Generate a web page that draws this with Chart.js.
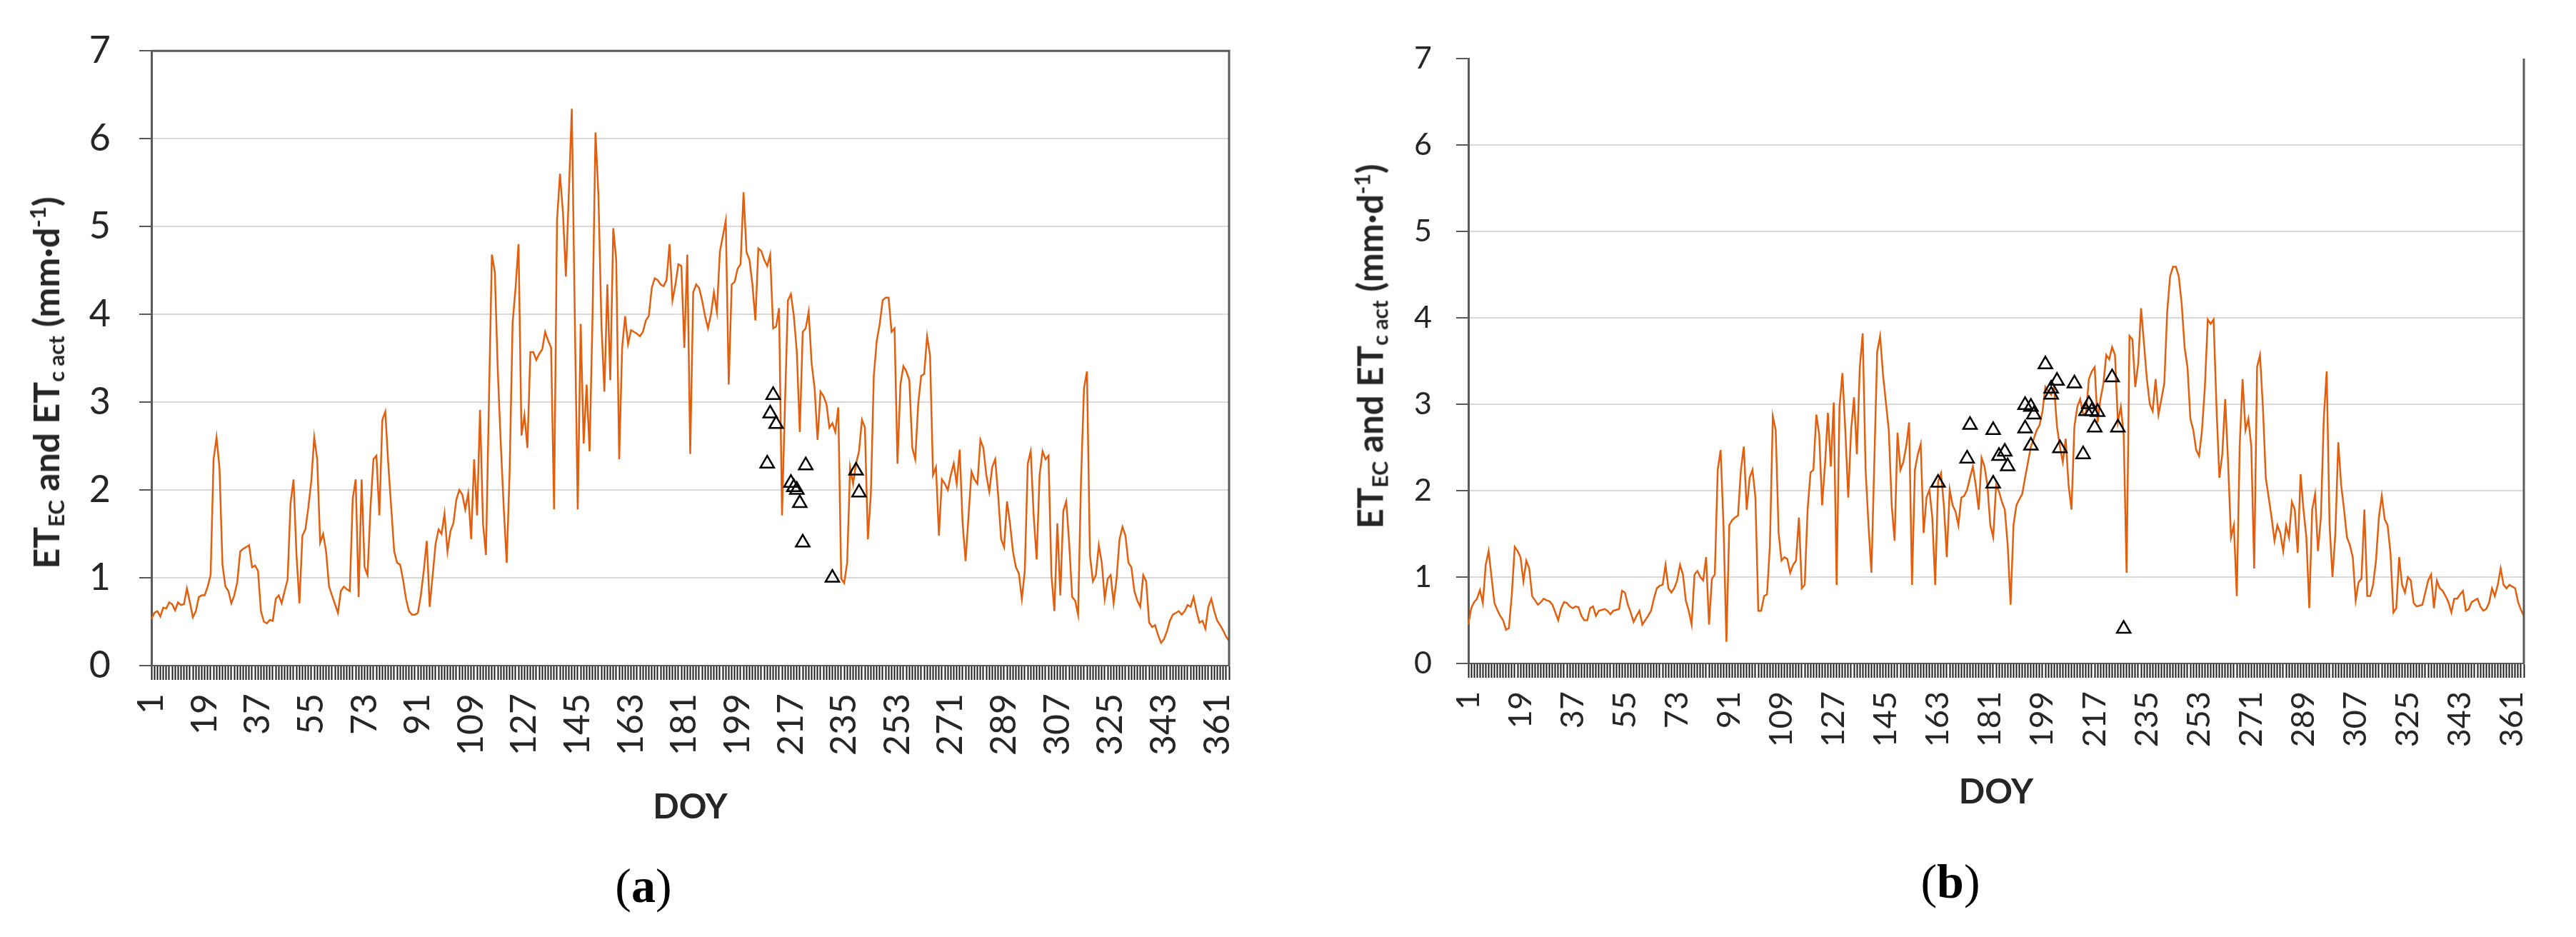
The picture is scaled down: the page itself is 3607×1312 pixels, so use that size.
<!DOCTYPE html>
<html>
<head>
<meta charset="utf-8">
<title>ET EC and ET c act by DOY</title>
<script src="https://cdn.jsdelivr.net/npm/chart.js@4.4.1/dist/chart.umd.min.js"></script>
<style>
  body { margin: 0; width: 3607px; height: 1312px; background: #fff; overflow: hidden; position: relative; }
  canvas { position: absolute; top: 0; }
  #chartA { left: 0; }
  #chartB { left: 1800px; }
  .ytitle { position: absolute; transform: translate(-50%, -50%) rotate(-90deg); white-space: nowrap;
            font-family: Lato, sans-serif; font-weight: bold; color: #262626; line-height: 1; }
  .ytitle sub { font-size: 0.62em; vertical-align: -0.22em; line-height: 0; }
  .ytitle sup { font-size: 0.62em; vertical-align: 0.6em; line-height: 0; }
  .caption { position: absolute; transform: translate(-50%, -50%); font-family: "Liberation Serif", serif;
             font-size: 68px; color: #000; line-height: 1; }
</style>
</head>
<body>
<canvas id="chartA" width="1800" height="1312"></canvas>
<canvas id="chartB" width="1807" height="1312"></canvas>

<div class="ytitle" style="left:64px; top:536px; font-size:50px;">ET<sub>EC</sub> and ET<sub>c act</sub> (mm·d<sup>-1</sup>)</div>
<div class="ytitle" style="left:1918px; top:485px; font-size:49px;">ET<sub>EC</sub> and ET<sub>c act</sub> (mm·d<sup>-1</sup>)</div>
<div class="caption" style="left:901px; top:1240px;">(<b>a</b>)</div>
<div class="caption" style="left:2731px; top:1234px;">(<b>b</b>)</div>

<script>
// Day of year labels 1..365
const doy = [];
for (let d = 1; d <= 365; d++) doy.push(String(d));

// Panel (a): daily ET (mm/d)
const etA = [
  0.53, 0.60, 0.62, 0.56, 0.66, 0.65, 0.72, 0.70, 0.63, 0.72,
  0.69, 0.70, 0.88, 0.72, 0.55, 0.62, 0.78, 0.80, 0.80, 0.90,
  1.03, 2.35, 2.60, 2.25, 1.15, 0.90, 0.85, 0.71, 0.80, 0.95,
  1.30, 1.33, 1.35, 1.37, 1.12, 1.14, 1.08, 0.62, 0.50, 0.48,
  0.52, 0.51, 0.76, 0.80, 0.71, 0.85, 0.98, 1.85, 2.12, 1.26,
  0.71, 1.48, 1.55, 1.80, 2.10, 2.60, 2.35, 1.40, 1.50, 1.30,
  0.90, 0.80, 0.70, 0.60, 0.85, 0.90, 0.87, 0.85, 1.90, 2.12,
  0.78, 2.12, 1.12, 1.03, 1.80, 2.35, 2.39, 1.71, 2.80, 2.89,
  2.30, 1.80, 1.30, 1.17, 1.15, 0.98, 0.76, 0.62, 0.58, 0.58,
  0.60, 0.80, 1.08, 1.42, 0.67, 1.03, 1.39, 1.55, 1.50, 1.73,
  1.30, 1.53, 1.62, 1.89, 2.00, 1.95, 1.78, 1.96, 1.44, 2.35,
  1.71, 2.91, 1.62, 1.26, 3.00, 4.68, 4.48, 3.35, 2.53, 1.80,
  1.17, 2.21, 3.90, 4.30, 4.80, 2.62, 2.85, 2.48, 3.57, 3.57,
  3.48, 3.55, 3.60, 3.80, 3.70, 3.62, 1.78, 5.07, 5.60, 5.16,
  4.43, 5.39, 6.34, 3.98, 1.78, 3.89, 2.53, 3.20, 2.44, 3.98,
  6.07, 5.34, 3.89, 3.12, 4.34, 3.25, 4.98, 4.62, 2.35, 3.62,
  3.98, 3.66, 3.82, 3.80, 3.78, 3.75, 3.80, 3.93, 3.98, 4.30,
  4.41, 4.39, 4.34, 4.32, 4.39, 4.80, 4.16, 4.34, 4.57, 4.55,
  3.62, 4.68, 2.41, 4.25, 4.34, 4.30, 4.16, 3.98, 3.84, 4.00,
  4.25, 4.03, 4.71, 4.89, 5.07, 3.20, 4.34, 4.37, 4.52, 4.57,
  5.39, 4.71, 4.62, 4.34, 3.93, 4.75, 4.72, 4.62, 4.55, 4.68,
  3.84, 3.86, 4.07, 1.71, 2.98, 4.16, 4.23, 3.98, 3.57, 2.66,
  3.80, 3.84, 4.03, 3.44, 3.16, 2.57, 3.12, 3.07, 2.98, 2.71,
  2.76, 2.66, 2.94, 0.99, 0.94, 1.17, 2.26, 2.07, 2.30, 2.44,
  2.80, 2.71, 1.44, 1.95, 3.30, 3.70, 3.89, 4.16, 4.19, 4.19,
  3.80, 3.84, 2.30, 3.20, 3.41, 3.35, 3.25, 2.48, 2.35, 2.98,
  3.30, 3.32, 3.75, 3.53, 2.17, 2.26, 1.48, 2.12, 2.07, 2.00,
  2.17, 2.30, 2.07, 2.46, 1.62, 1.19, 1.71, 2.21, 2.12, 2.07,
  2.57, 2.48, 2.17, 1.98, 2.26, 2.35, 1.94, 1.44, 1.35, 1.87,
  1.62, 1.30, 1.12, 1.05, 0.76, 1.08, 2.30, 2.44, 1.71, 1.21,
  2.17, 2.44, 2.35, 2.39, 1.03, 0.62, 1.62, 0.80, 1.76, 1.87,
  1.39, 0.78, 0.74, 0.58, 2.12, 3.16, 3.35, 1.26, 0.96, 1.03,
  1.37, 1.17, 0.76, 0.99, 1.03, 0.71, 0.99, 1.44, 1.58, 1.48,
  1.17, 1.12, 0.85, 0.74, 0.67, 1.03, 0.96, 0.49, 0.44, 0.46,
  0.35, 0.26, 0.30, 0.39, 0.51, 0.58, 0.60, 0.62, 0.58, 0.62,
  0.69, 0.67, 0.78, 0.62, 0.49, 0.51, 0.42, 0.67, 0.76, 0.62,
  0.51, 0.46, 0.40, 0.33, 0.28
];

// Panel (a): measured points (triangles)
const obsDayA = [209, 210, 211, 212, 217, 218, 219, 220, 221, 222, 231, 239, 240];
const obsA    = [2.30, 2.87, 3.08, 2.75, 2.08, 2.03, 2.00, 1.85, 1.40, 2.28, 1.00, 2.22, 1.97];

// Panel (b): daily ET (mm/d)
const etB = [
  0.45, 0.64, 0.71, 0.75, 0.85, 0.70, 1.14, 1.30, 1.00, 0.70,
  0.62, 0.55, 0.50, 0.39, 0.41, 0.80, 1.35, 1.30, 1.23, 0.95,
  1.19, 1.10, 0.78, 0.73, 0.68, 0.71, 0.75, 0.73, 0.72, 0.68,
  0.59, 0.50, 0.64, 0.71, 0.70, 0.66, 0.64, 0.66, 0.65, 0.55,
  0.50, 0.50, 0.64, 0.66, 0.55, 0.61, 0.62, 0.63, 0.61, 0.57,
  0.61, 0.62, 0.63, 0.84, 0.82, 0.68, 0.59, 0.48, 0.55, 0.61,
  0.45, 0.50, 0.55, 0.61, 0.75, 0.87, 0.90, 0.91, 1.14, 0.87,
  0.82, 0.87, 0.96, 1.14, 1.03, 0.73, 0.61, 0.45, 1.03, 1.07,
  1.00, 0.96, 1.23, 0.45, 0.98, 1.03, 2.24, 2.47, 1.60, 0.25,
  1.60, 1.66, 1.69, 1.71, 2.24, 2.51, 1.78, 2.15, 2.24, 1.92,
  0.61, 0.61, 0.78, 0.80, 1.37, 2.86, 2.70, 1.51, 1.19, 1.23,
  1.21, 1.05, 1.14, 1.19, 1.69, 0.87, 0.91, 1.78, 2.21, 2.24,
  2.88, 2.65, 1.83, 2.30, 2.90, 2.28, 3.02, 0.91, 2.97, 3.36,
  2.70, 1.92, 2.70, 3.08, 2.42, 3.43, 3.82, 2.24, 1.60, 1.05,
  2.33, 3.61, 3.79, 3.34, 3.02, 2.70, 1.83, 1.42, 2.67, 2.24,
  2.33, 2.51, 2.79, 0.91, 2.24, 2.42, 2.54, 1.51, 1.92, 2.01,
  1.69, 0.91, 2.10, 2.20, 1.83, 1.23, 2.01, 1.83, 1.76, 1.60,
  1.92, 1.94, 2.01, 2.15, 2.28, 2.06, 1.78, 2.38, 2.28, 2.06,
  1.60, 1.46, 2.06, 1.99, 1.87, 1.78, 1.37, 0.68, 1.60, 1.83,
  1.90, 1.96, 2.15, 2.33, 2.51, 2.60, 2.70, 2.76, 2.92, 3.20,
  3.15, 3.11, 3.20, 2.74, 2.51, 2.33, 2.60, 2.06, 1.78, 2.74,
  2.97, 3.06, 2.88, 2.90, 3.29, 3.38, 3.43, 2.79, 3.06, 3.24,
  3.57, 3.52, 3.66, 3.57, 2.79, 2.97, 2.65, 1.05, 3.79, 3.75,
  3.20, 3.47, 4.11, 3.70, 3.29, 3.00, 2.92, 3.29, 2.88, 3.06,
  3.24, 4.07, 4.48, 4.59, 4.59, 4.48, 4.16, 3.66, 3.43, 2.83,
  2.70, 2.47, 2.40, 2.70, 3.20, 3.98, 3.93, 3.98, 2.97, 2.15,
  2.42, 3.06, 2.33, 1.46, 1.60, 0.78, 2.51, 3.29, 2.70, 2.83,
  2.51, 1.10, 3.43, 3.57, 2.97, 2.15, 1.92, 1.69, 1.42, 1.60,
  1.51, 1.30, 1.60, 1.46, 1.87, 1.78, 1.28, 2.19, 1.78, 1.46,
  0.64, 1.78, 1.96, 1.30, 1.69, 2.83, 3.38, 1.60, 1.00, 1.51,
  2.56, 2.06, 1.78, 1.46, 1.37, 1.23, 0.73, 0.94, 0.98, 1.78,
  0.78, 0.78, 0.91, 1.19, 1.69, 1.94, 1.67, 1.60, 1.28, 0.59,
  0.64, 1.23, 0.91, 0.82, 1.00, 0.96, 0.70, 0.66, 0.67, 0.68,
  0.82, 0.96, 1.03, 0.64, 0.96, 0.87, 0.84, 0.78, 0.71, 0.59,
  0.75, 0.75, 0.80, 0.84, 0.61, 0.63, 0.71, 0.73, 0.75, 0.66,
  0.61, 0.63, 0.70, 0.87, 0.78, 0.91, 1.10, 0.91, 0.87, 0.91,
  0.89, 0.87, 0.71, 0.62, 0.55
];

// Panel (b): measured points (triangles)
const obsDayB = [163, 173, 174, 182, 182, 184, 186, 187, 193, 193, 195, 195, 196, 200,
                 202, 202, 204, 205, 210, 213, 214, 215, 216, 217, 218, 223, 225, 227];
const obsB    = [2.09, 2.37, 2.76, 2.08, 2.70, 2.40, 2.45, 2.28, 2.72, 2.99, 2.52, 2.97, 2.88, 3.46,
                 3.11, 3.18, 3.27, 2.49, 3.24, 2.42, 2.92, 3.00, 2.92, 2.73, 2.91, 3.31, 2.73, 0.40];

const yTicks = [0, 1, 2, 3, 4, 5, 6, 7];
const labelEvery = 18;

const lineColor = '#E35F0E';
const axisColor = '#595959';

if (etA.length !== 365 || etB.length !== 365) {
  throw new Error('series length ' + etA.length + ' / ' + etB.length);
}

// right (and optionally top) frame of the plot area
const framePlugin = {
  id: 'frame',
  afterDatasetsDraw(chart, args, opts) {
    const { ctx, chartArea: a } = chart;
    ctx.save();
    ctx.strokeStyle = axisColor;
    ctx.lineWidth = 3;
    ctx.beginPath();
    ctx.moveTo(a.right, a.bottom);
    ctx.lineTo(a.right, a.top);
    if (opts.top) ctx.lineTo(a.left, a.top);
    ctx.stroke();
    ctx.restore();
  }
};

function buildChart(id, series, obsDay, obsVal, look) {
  return new Chart(document.getElementById(id), {
    type: 'line',
    data: {
      labels: doy,
      datasets: [
        {
          label: 'measured',
          data: obsDay.map((d, i) => ({ x: String(d), y: obsVal[i] })),
          showLine: false,
          pointStyle: 'triangle',
          pointRadius: 11,
          pointBorderWidth: 2.5,
          pointBorderColor: '#000',
          pointBackgroundColor: 'rgba(0,0,0,0)',
          order: 1
        },
        {
          label: 'ET',
          data: series,
          borderColor: lineColor,
          borderWidth: 2.5,
          pointRadius: 0,
          tension: 0,
          order: 2
        }
      ]
    },
    options: {
      responsive: false,
      animation: false,
      devicePixelRatio: 1,
      layout: { padding: { left: 0, top: look.top, right: look.right, bottom: 0 } },
      plugins: {
        legend: { display: false },
        tooltip: { enabled: false },
        frame: { top: look.frameTop }
      },
      scales: {
        x: {
          type: 'category',
          offset: false,
          border: { display: true, color: axisColor, width: 2 },
          grid: { drawOnChartArea: false, drawTicks: true, tickLength: 20, tickColor: '#1e1e1e', tickWidth: 2 },
          ticks: {
            autoSkip: false,
            minRotation: 90,
            maxRotation: 90,
            padding: 19,
            color: '#262626',
            font: { family: 'Lato', size: look.xFont },
            callback: function (v, i) { return i % labelEvery === 0 ? this.getLabelForValue(v) : ''; }
          },
          title: {
            display: true,
            text: 'DOY',
            color: '#262626',
            font: { family: 'Lato', size: 48, weight: 'bold' },
            padding: { top: 0, bottom: look.doyPad }
          },
          afterFit: s => { s.height = look.xHeight; }
        },
        y: {
          min: 0,
          max: 7,
          border: { display: true, color: axisColor, width: 3 },
          grid: {
            color: c => c.tick.value === 7 ? (look.frameTop ? axisColor : 'rgba(0,0,0,0)') : '#d9d9d9',
            lineWidth: 2,
            drawTicks: true,
            tickLength: 17,
            tickColor: axisColor,
            tickWidth: 2
          },
          afterBuildTicks: s => { s.ticks = yTicks.map(v => ({ value: v })); },
          ticks: {
            padding: look.yPad,
            color: '#262626',
            font: { family: 'Lato', size: look.yFont }
          },
          afterFit: s => { s.width = look.yWidth; }
        }
      }
    },
    plugins: [framePlugin]
  });
}

buildChart('chartA', etA, obsDayA, obsA, {
  top: 69, right: 49, xHeight: 380, yWidth: 212,
  xFont: 50, yFont: 52, yPad: 40, doyPad: 153, frameTop: true
});

buildChart('chartB', etB, obsDayB, obsB, {
  top: 82, right: 41, xHeight: 383, yWidth: 256,
  xFont: 45, yFont: 43, yPad: 34, doyPad: 174, frameTop: false
});
</script>
</body>
</html>
